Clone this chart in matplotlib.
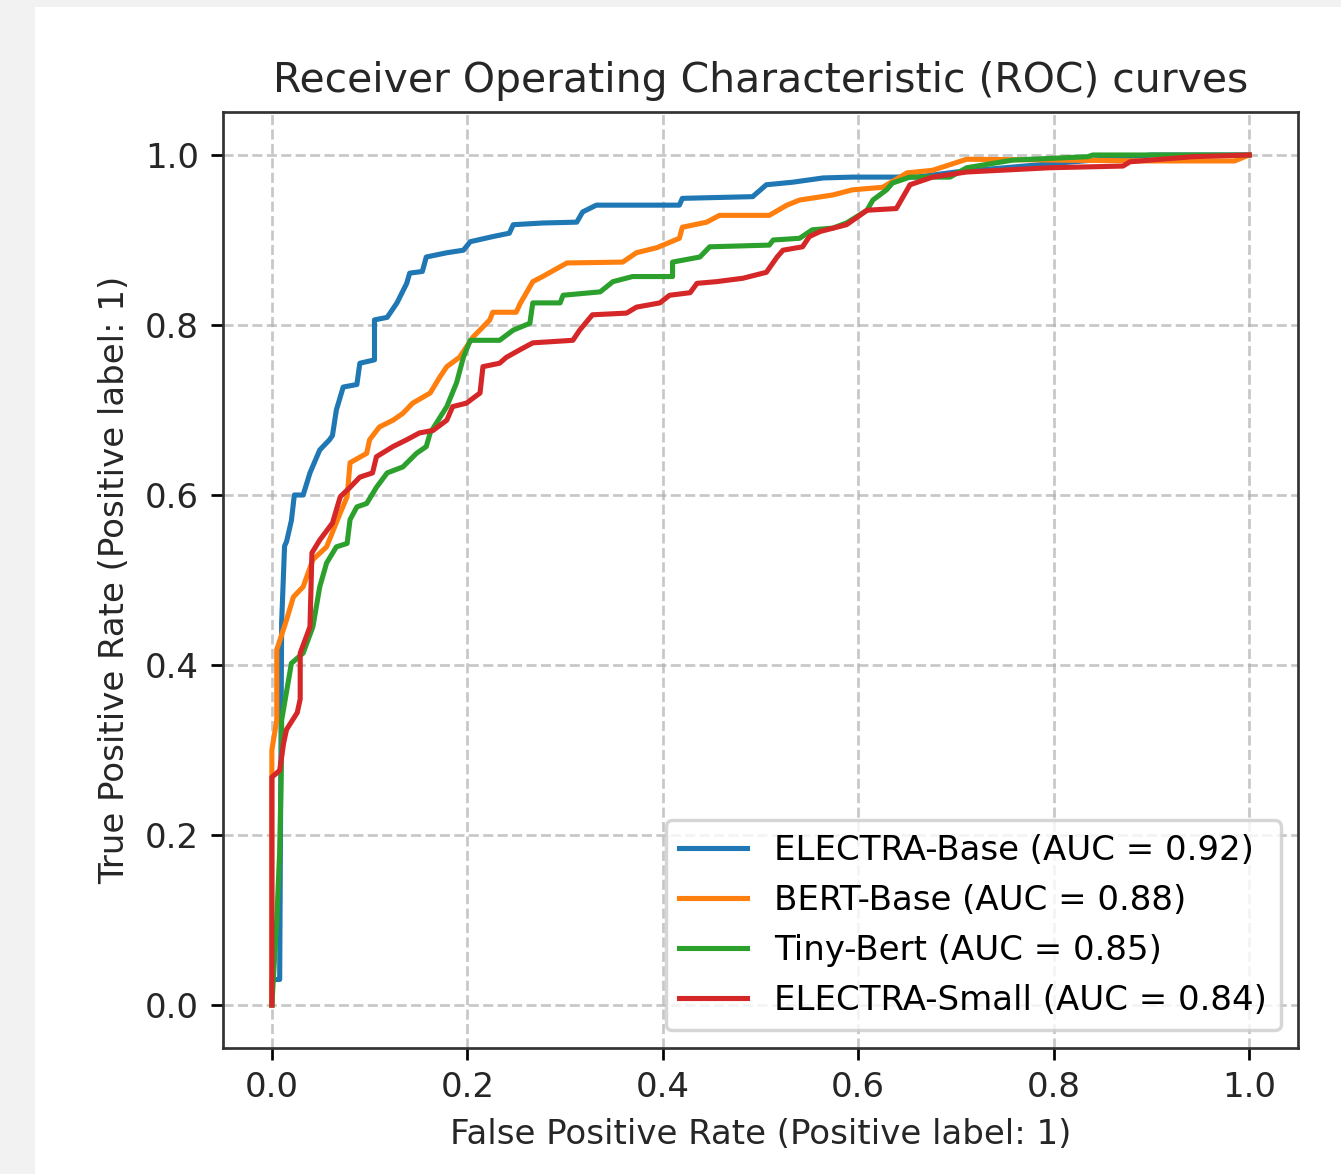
import matplotlib
matplotlib.use("Agg")
import matplotlib.pyplot as plt
from matplotlib.patches import Rectangle

# ---- data ----
labels = ["ELECTRA-Base (AUC = 0.92)", "BERT-Base (AUC = 0.88)",
          "Tiny-Bert (AUC = 0.85)", "ELECTRA-Small (AUC = 0.84)"]
colors = ["#1f77b4", "#ff7f0e", "#2ca02c", "#d62728"]

electra_base_fpr = [0, 0, 0.008, 0.010, 0.013, 0.015, 0.020, 0.023, 0.032, 0.039, 0.049, 0.059,
                    0.062, 0.066, 0.073, 0.087, 0.090, 0.105, 0.105, 0.118, 0.128, 0.138, 0.141,
                    0.154, 0.158, 0.179, 0.196, 0.203, 0.226, 0.243, 0.247, 0.277, 0.312, 0.318,
                    0.332, 0.417, 0.420, 0.492, 0.506, 0.533, 0.564, 0.594, 0.660, 0.700, 0.750,
                    0.800, 0.850, 0.900, 1.0]
electra_base_tpr = [0, 0.03, 0.03, 0.45, 0.54, 0.545, 0.57, 0.60, 0.60, 0.626, 0.653, 0.665,
                    0.670, 0.700, 0.727, 0.730, 0.755, 0.759, 0.806, 0.809, 0.826, 0.849, 0.861,
                    0.863, 0.880, 0.885, 0.888, 0.898, 0.904, 0.908, 0.918, 0.920, 0.921, 0.933,
                    0.941, 0.941, 0.949, 0.951, 0.965, 0.968, 0.973, 0.974, 0.974, 0.980, 0.985,
                    0.990, 0.995, 1.0, 1.0]

bert_base_fpr = [0, 0, 0.005, 0.005, 0.015, 0.022, 0.032, 0.042, 0.056, 0.070, 0.077, 0.080,
                 0.097, 0.100, 0.110, 0.124, 0.134, 0.144, 0.162, 0.172, 0.179, 0.192, 0.206,
                 0.223, 0.226, 0.250, 0.254, 0.267, 0.277, 0.302, 0.359, 0.373, 0.394, 0.417,
                 0.420, 0.445, 0.458, 0.509, 0.527, 0.540, 0.574, 0.594, 0.625, 0.650, 0.676,
                 0.711, 0.900, 0.985, 1.0]
bert_base_tpr = [0, 0.30, 0.335, 0.418, 0.453, 0.480, 0.492, 0.524, 0.539, 0.579, 0.598, 0.638,
                 0.649, 0.665, 0.680, 0.688, 0.696, 0.708, 0.720, 0.739, 0.751, 0.762, 0.786,
                 0.806, 0.815, 0.815, 0.825, 0.851, 0.857, 0.873, 0.874, 0.885, 0.891, 0.902,
                 0.915, 0.921, 0.929, 0.929, 0.941, 0.947, 0.953, 0.959, 0.962, 0.979, 0.982,
                 0.995, 0.993, 0.993, 1.0]

tiny_bert_fpr = [0, 0.005, 0.008, 0.010, 0.010, 0.020, 0.032, 0.042, 0.049, 0.056, 0.066, 0.077,
                 0.080, 0.087, 0.097, 0.107, 0.118, 0.134, 0.148, 0.158, 0.162, 0.179, 0.189,
                 0.196, 0.203, 0.233, 0.247, 0.264, 0.267, 0.295, 0.298, 0.336, 0.349, 0.369,
                 0.410, 0.410, 0.438, 0.448, 0.509, 0.513, 0.540, 0.553, 0.574, 0.588, 0.609,
                 0.615, 0.629, 0.635, 0.653, 0.694, 0.711, 0.758, 0.835, 0.840, 1.0]
tiny_bert_tpr = [0, 0.10, 0.18, 0.30, 0.335, 0.402, 0.414, 0.445, 0.492, 0.520, 0.539, 0.543,
                 0.571, 0.586, 0.590, 0.609, 0.626, 0.633, 0.649, 0.657, 0.673, 0.704, 0.732,
                 0.762, 0.782, 0.782, 0.794, 0.802, 0.826, 0.826, 0.835, 0.839, 0.851, 0.857,
                 0.857, 0.874, 0.880, 0.892, 0.894, 0.900, 0.902, 0.912, 0.914, 0.920, 0.935,
                 0.947, 0.959, 0.967, 0.974, 0.974, 0.985, 0.994, 0.998, 1.0, 1.0]

electra_small_fpr = [0, 0, 0.008, 0.012, 0.015, 0.026, 0.029, 0.029, 0.039, 0.041, 0.049, 0.062,
                     0.070, 0.080, 0.090, 0.103, 0.107, 0.124, 0.138, 0.151, 0.165, 0.179, 0.182,
                     0.185, 0.199, 0.213, 0.216, 0.233, 0.240, 0.254, 0.267, 0.308, 0.315, 0.328,
                     0.363, 0.373, 0.397, 0.407, 0.428, 0.435, 0.455, 0.482, 0.506, 0.517, 0.523,
                     0.543, 0.550, 0.561, 0.588, 0.598, 0.609, 0.639, 0.646, 0.653, 0.676, 0.711,
                     0.796, 0.871, 0.878, 0.942, 1.0]
electra_small_tpr = [0, 0.268, 0.276, 0.308, 0.324, 0.344, 0.360, 0.414, 0.445, 0.532, 0.547, 0.567,
                     0.598, 0.609, 0.621, 0.626, 0.645, 0.657, 0.665, 0.673, 0.676, 0.688, 0.696,
                     0.704, 0.708, 0.720, 0.751, 0.755, 0.762, 0.771, 0.779, 0.782, 0.794, 0.812,
                     0.814, 0.821, 0.826, 0.835, 0.838, 0.849, 0.851, 0.855, 0.862, 0.880, 0.888,
                     0.892, 0.904, 0.910, 0.918, 0.926, 0.935, 0.937, 0.951, 0.965, 0.974, 0.980,
                     0.985, 0.987, 0.992, 0.998, 1.0]

fprs = [electra_base_fpr, bert_base_fpr, tiny_bert_fpr, electra_small_fpr]
tprs = [electra_base_tpr, bert_base_tpr, tiny_bert_tpr, electra_small_tpr]

xticks = [0.0, 0.2, 0.4, 0.6, 0.8, 1.0]
yticks = [0.0, 0.2, 0.4, 0.6, 0.8, 1.0]

# ---- figure ----
W, H, DPI = 1341, 1174, 245
fig = plt.figure(figsize=(W / DPI, H / DPI), dpi=DPI, facecolor="white")
# light grey strips along the left and top edges
fig.patches.append(Rectangle((0, 0), 35 / W, 1, transform=fig.transFigure,
                             facecolor="#f2f2f2", edgecolor="none"))
fig.patches.append(Rectangle((0, 1 - 7 / H), 1, 7 / H, transform=fig.transFigure,
                             facecolor="#f2f2f2", edgecolor="none"))

ax = fig.add_axes([223 / W, 1 - 1047.5 / H, (1298 - 223) / W, (1047.5 - 112.5) / H])
for f, t, lab, c in zip(fprs, tprs, labels, colors):
    ax.plot(f, t, color=c, label=lab, linewidth=1.5)

ax.set_xlim(-0.05, 1.05)
ax.set_ylim(-0.05, 1.05)
ax.set_xticks(xticks)
ax.set_yticks(yticks)
ax.set_xticklabels([f"{v:.1f}" for v in xticks])
ax.set_yticklabels([f"{v:.1f}" for v in yticks])
ax.tick_params(labelcolor="#262626")
ax.grid(True, linestyle="--", alpha=0.7)
for s in ax.spines.values():
    s.set_color("#333333")

ax.set_xlabel("False Positive Rate (Positive label: 1)", color="#262626")
ax.set_ylabel("True Positive Rate (Positive label: 1)", color="#262626")
ax.set_title("Receiver Operating Characteristic (ROC) curves", color="#262626")
ax.legend(loc="lower right")

fig.savefig("out.png", dpi=DPI, facecolor=fig.get_facecolor())
